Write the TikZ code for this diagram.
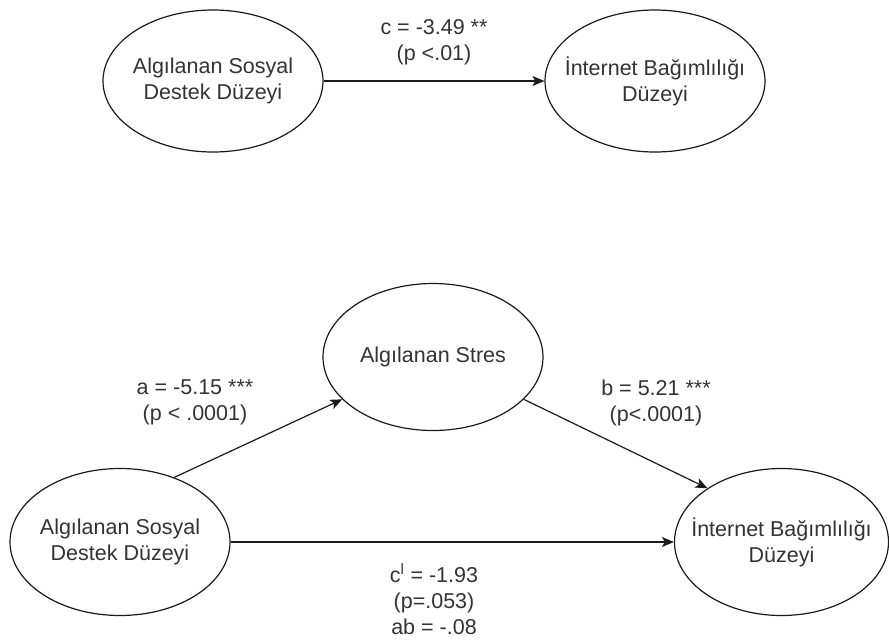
\documentclass[tikz,border=0pt]{standalone}
\usepackage{fontspec}
\setmainfont{Liberation Sans}
\usetikzlibrary{shapes.geometric,arrows.meta}
\definecolor{txtgray}{HTML}{333333}
\definecolor{linegray}{HTML}{1A1A1A}
\begin{document}
\begin{tikzpicture}[x=1pt,y=-1pt,
  var/.style={draw=linegray, line width=1.2pt, ellipse, inner sep=0pt},
  vartop/.style={var, minimum width=220pt, minimum height=142pt},
  varbot/.style={var, minimum width=220pt, minimum height=147pt},
  txt/.style={text=txtgray, align=center, inner sep=0pt,
    font=\fontsize{21.5}{26}\selectfont},
  arr/.style={draw=linegray, line width=1.2pt,
    -{Stealth[length=12pt, width=10pt, inset=3pt]}}
]
\useasboundingbox (0,0) rectangle (889,641);

% top model
\node[vartop] (tl) at (213,81) {};
\node[txt] (tlt) at (tl) {Algılanan Sosyal\\Destek Düzeyi};
\node[vartop] (tr) at (655,81) {};
\node[txt] (trt) at (tr) {İnternet Bağımlılığı\\Düzeyi};
\draw[arr] (tl.east) -- (tr.west);
\node[txt] (lc) at (434,42) {c = -3.49 **\\(p <.01)};

% bottom model
\node[varbot] (bl) at (120,542) {};
\node[txt] (blt) at (bl) {Algılanan Sosyal\\Destek Düzeyi};
\node[varbot] (md) at (433,357) {};
\node[txt] (mdt) at (md) {Algılanan Stres};
\node[var, minimum width=214pt, minimum height=147pt] (br) at (781.5,542) {};
\node[txt] (brt) at (br) {İnternet Bağımlılığı\\Düzeyi};

\draw[arr] (bl.50) -- (md.205);
\draw[arr] (md.335) -- (br.144);
\draw[arr] (bl.east) -- (br.west);

\node[txt] (la) at (195,402) {a = -5.15 ***\\(p < .0001)};
\node[txt] (lb) at (656,403) {b = 5.21 ***\\(p<.0001)};
\node[txt] (lcp) at (434,599) {c\textsuperscript{l} = -1.93\\(p=.053)\\ab = -.08};
\end{tikzpicture}
\end{document}
